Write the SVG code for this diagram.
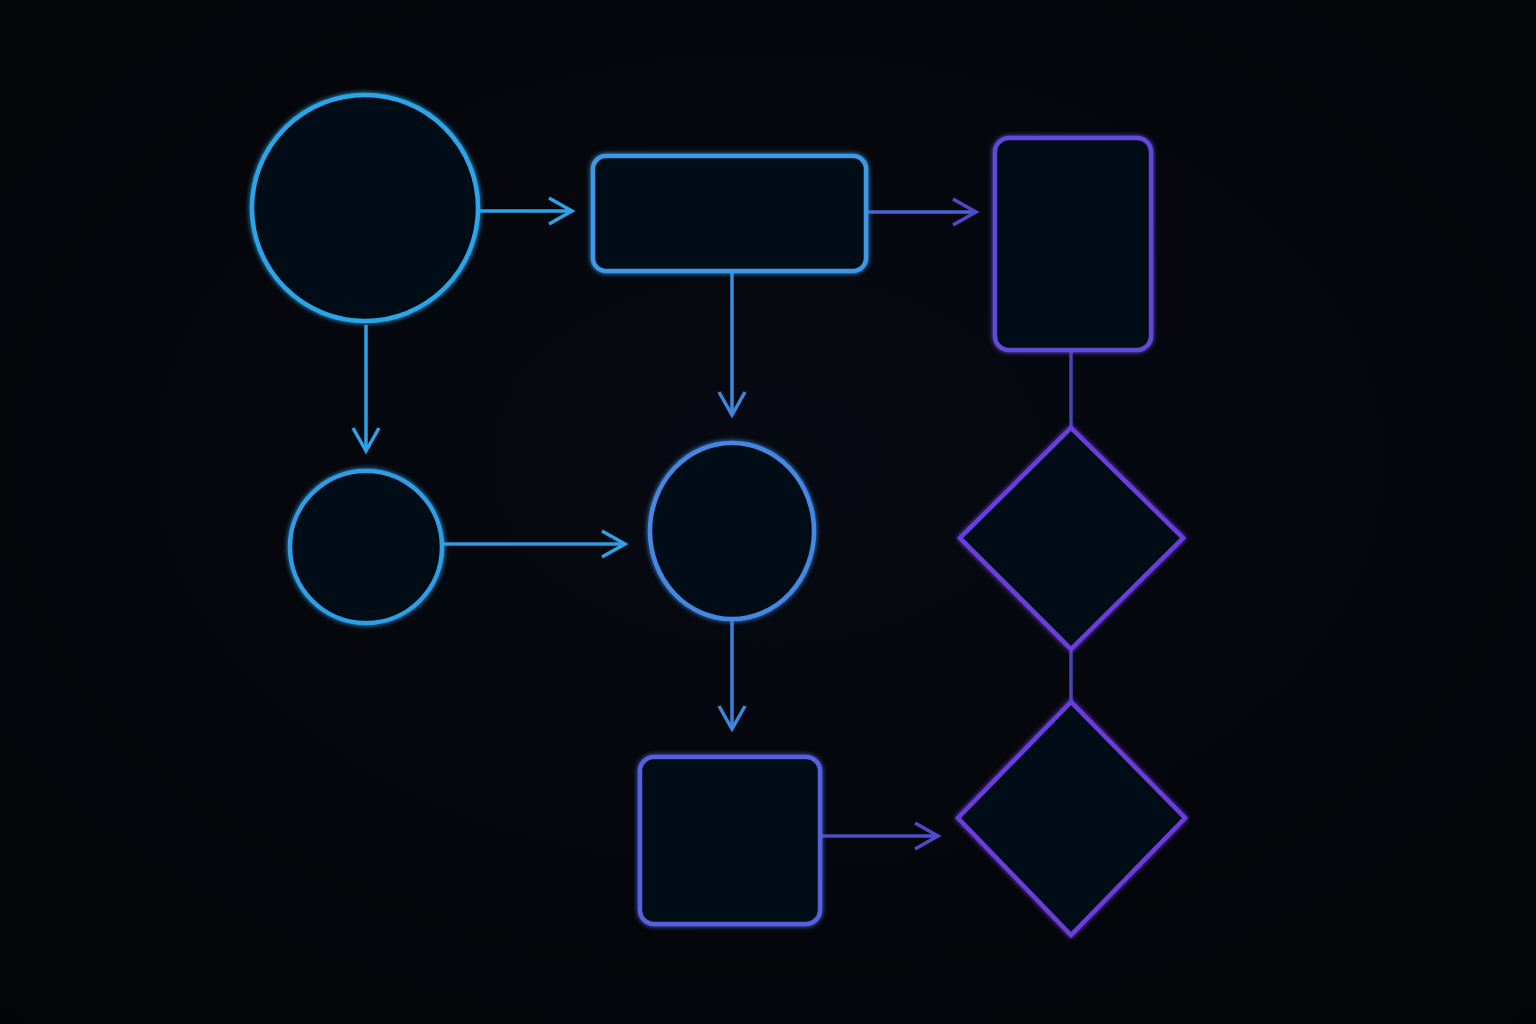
<svg xmlns="http://www.w3.org/2000/svg" width="1536" height="1024" viewBox="0 0 1536 1024">
  <defs>
    <radialGradient id="bg" cx="50%" cy="45%" r="75%">
      <stop offset="0" stop-color="#070a12"/>
      <stop offset="1" stop-color="#030407"/>
    </radialGradient>
    <filter id="glow" x="-30%" y="-30%" width="160%" height="160%">
      <feGaussianBlur in="SourceAlpha" stdDeviation="8" result="a"/>
      <feFlood flood-color="#0a1a3a" flood-opacity="0.7"/>
      <feComposite in2="a" operator="in" result="shadow"/>
      <feMerge>
        <feMergeNode in="shadow"/>
        <feMergeNode in="SourceGraphic"/>
      </feMerge>
    </filter>
    <filter id="lineglow" x="-20%" y="-20%" width="140%" height="140%">
      <feGaussianBlur in="SourceGraphic" stdDeviation="2.5" result="b"/>
      <feMerge>
        <feMergeNode in="b"/>
        <feMergeNode in="SourceGraphic"/>
      </feMerge>
    </filter>
    <marker id="ahBlue" viewBox="0 0 30 32" refX="26" refY="16" markerWidth="30" markerHeight="32" markerUnits="userSpaceOnUse" orient="auto">
      <path d="M3,3 L26,16 L3,29" fill="none" stroke="#2ea3e6" stroke-width="3.5"/>
    </marker>
    <marker id="ahMid" viewBox="0 0 30 32" refX="26" refY="16" markerWidth="30" markerHeight="32" markerUnits="userSpaceOnUse" orient="auto">
      <path d="M3,3 L26,16 L3,29" fill="none" stroke="#3f86dc" stroke-width="3.5"/>
    </marker>
    <marker id="ahPurple" viewBox="0 0 30 32" refX="26" refY="16" markerWidth="30" markerHeight="32" markerUnits="userSpaceOnUse" orient="auto">
      <path d="M3,3 L26,16 L3,29" fill="none" stroke="#5148cc" stroke-width="3.5"/>
    </marker>
  </defs>
  <style>
    .node { fill: #060a15; stroke-width: 4.5; filter: url(#lineglow); }
    .edge { fill: none; stroke-width: 3.5; }
  </style>
  <rect width="1536" height="1024" fill="url(#bg)"/>

  <g id="connectors">
    <path class="edge" d="M480,211 H572" stroke="#2ea3e6" marker-end="url(#ahBlue)"/>
    <path class="edge" d="M868,212 H976" stroke="#4a62d4" marker-end="url(#ahPurple)"/>
    <path class="edge" d="M366,325 V451" stroke="#2ea0e4" marker-end="url(#ahBlue)"/>
    <path class="edge" d="M732,273 V415" stroke="#3c8ade" marker-end="url(#ahMid)"/>
    <path class="edge" d="M444,544 H625" stroke="#2e9ce4" marker-end="url(#ahBlue)"/>
    <path class="edge" d="M732,621 V729" stroke="#3e7cd8" marker-end="url(#ahMid)"/>
    <path class="edge" d="M1071,352 V428" stroke="#4b44b8"/>
    <path class="edge" d="M1071,651 V702" stroke="#4b44b8"/>
    <path class="edge" d="M822,836 H938" stroke="#4c4fc8" marker-end="url(#ahPurple)"/>
  </g>

  <g id="node-start">
    <circle class="node" cx="365" cy="208" r="113" stroke="#2ba6e8"/>
  </g>
  <g id="node-process">
    <rect class="node" x="593" y="156" width="273" height="115" rx="13" stroke="#3a99e8"/>
  </g>
  <g id="node-tall">
    <rect class="node" x="995" y="138" width="156" height="212" rx="14" stroke="#6449d8"/>
  </g>
  <g id="node-small-circle">
    <circle class="node" cx="366" cy="547" r="76" stroke="#2e9fe6"/>
  </g>
  <g id="node-mid-circle">
    <ellipse class="node" cx="732" cy="531" rx="82" ry="88" stroke="#4488e4"/>
  </g>
  <g id="node-diamond-1">
    <polygon class="node" points="1071,428 1183,538 1071,649 960,538" stroke="#6a3ee0"/>
  </g>
  <g id="node-diamond-2">
    <polygon class="node" points="1071,702 1185,818 1071,935 958,818" stroke="#6a3ddc"/>
  </g>
  <g id="node-square">
    <rect class="node" x="640" y="757" width="180" height="167" rx="14" stroke="#5562e0"/>
  </g>
</svg>
